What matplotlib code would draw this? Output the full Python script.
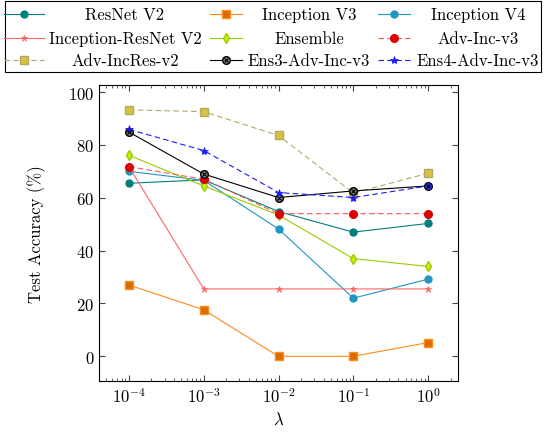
import matplotlib
matplotlib.use("Agg")
import matplotlib.pyplot as plt
from matplotlib.lines import Line2D
from matplotlib.patches import Rectangle
from matplotlib.ticker import LogLocator, NullFormatter

plt.rcParams['font.family'] = ['cmr10', 'DejaVu Serif']
plt.rcParams['mathtext.fontset'] = 'cm'
plt.rcParams['axes.formatter.use_mathtext'] = True
plt.rcParams['axes.unicode_minus'] = False

# data
lam = [1e-4, 1e-3, 1e-2, 1e-1, 1e0]
resnet_v2 = [65.5, 66.8, 54.8, 47.0, 50.3]
inception_v3 = [27.0, 17.6, 0.0, 0.0, 5.2]
inception_v4 = [70.0, 66.6, 48.2, 22.0, 29.2]
inc_resnet_v2 = [71.8, 25.5, 25.5, 25.5, 25.5]
ensemble = [76.1, 64.5, 53.5, 37.0, 34.0]
adv_inc_v3 = [71.8, 67.0, 54.0, 54.0, 54.0]
adv_incres_v2 = [93.3, 92.6, 83.6, 61.8, 69.3]
ens3_adv = [84.9, 69.0, 60.1, 62.6, 64.5]
ens4_adv = [85.9, 77.9, 62.0, 60.1, 64.5]

W, H = 546, 435
fig = plt.figure(figsize=(W / 100, H / 100), dpi=100)
ax = fig.add_axes([99 / W, 1 - 382 / H, (458 - 99) / W, (382 - 86) / H])

lw = 0.8
dash = (0, (5, 3))
styles = [
    dict(ls='-', marker='o', color='#007f7f', ms=5),
    dict(ls='-', marker='s', color='#ff8c1a', mfc='#d96b00', mec='#ff8c1a', ms=5.5),
    dict(ls='-', marker='o', color='#1f96c0', ms=5),
    dict(ls='-', marker='*', color='#ff6666', ms=5, mew=0.5),
    dict(ls='-', marker='d', color='#99cc00', mfc='#ccee00', ms=5),
    dict(ls=dash, marker='o', color='#ff5555', mfc='#dd0000', mec='#dd0000', ms=5.5),
    dict(ls=dash, marker='s', color='#b3a866', mfc='#d9c23f', mec='#b3a866', ms=6),
    dict(ls='-', marker='o', color='black', mfc='#808080', mec='black', ms=5.5),
    dict(ls=dash, marker='*', color='#1a1aff', ms=6, mew=0.5),
]
labels = ['ResNet V2', 'Inception V3', 'Inception V4', 'Inception-ResNet V2', 'Ensemble',
          'Adv-Inc-v3', 'Adv-IncRes-v2', 'Ens3-Adv-Inc-v3', 'Ens4-Adv-Inc-v3']
series = [resnet_v2, inception_v3, inception_v4, inc_resnet_v2, ensemble,
          adv_inc_v3, adv_incres_v2, ens3_adv, ens4_adv]

for ys, st in zip(series, styles):
    ax.plot(lam, ys, lw=lw, **st)
# the x inside the Ens3 circles
ax.plot(lam, ens3_adv, 'x', color='black', ms=3.5, mew=0.8)

ax.set_xscale('log')
ax.set_xlim(10 ** -4.4, 10 ** 0.4)
ax.set_ylim(-9.35, 102.7)
ax.set_yticks([0, 20, 40, 60, 80, 100])
ax.xaxis.set_major_locator(LogLocator(base=10, numticks=10))
ax.xaxis.set_minor_locator(LogLocator(base=10, subs=range(2, 10), numticks=20))
ax.xaxis.set_minor_formatter(NullFormatter())
ax.tick_params(which='both', direction='in', top=True, right=True, labelsize=12,
               colors='#444444', labelcolor='black')
ax.tick_params(which='major', length=4)
ax.tick_params(which='minor', length=2)
for s in ax.spines.values():
    s.set_linewidth(0.8)

ax.set_xlabel(r'$\lambda$', fontsize=12)
ax.set_ylabel('Test Accuracy (%)', fontsize=12, labelpad=16)

# legend box drawn by hand: row-major, centred text like the pgfplots one
def px(x, y):
    return x / W, 1 - y / H

x0, y0 = px(5, 2)
x1, y1 = px(541, 73)
fig.add_artist(Rectangle((x0, y1), x1 - x0, y0 - y1, transform=fig.transFigure,
                         fill=False, ec='black', lw=0.8))
handle_x = [(4, 44), (210, 242), (378, 410)]
text_cx = [125, 309, 478]
row_y = [15, 39, 61]
for i, (lab, st) in enumerate(zip(labels, styles)):
    r, c = divmod(i, 3)
    hx0, hx1 = handle_x[c]
    xa, ya = px(hx0, row_y[r])
    xb, _ = px(hx1, row_y[r])
    fig.add_artist(Line2D([xa, (xa + xb) / 2, xb], [ya, ya, ya], transform=fig.transFigure,
                          lw=lw, markevery=[1], **st))
    if lab == 'Ens3-Adv-Inc-v3':
        fig.add_artist(Line2D([(xa + xb) / 2], [ya], transform=fig.transFigure, ls='none',
                              marker='x', color='black', ms=3.5, mew=0.8))
    tx, ty = px(text_cx[c], row_y[r])
    fig.text(tx, ty, lab, ha='center', va='center', fontsize=12)

fig.savefig('out.png', dpi=100)
